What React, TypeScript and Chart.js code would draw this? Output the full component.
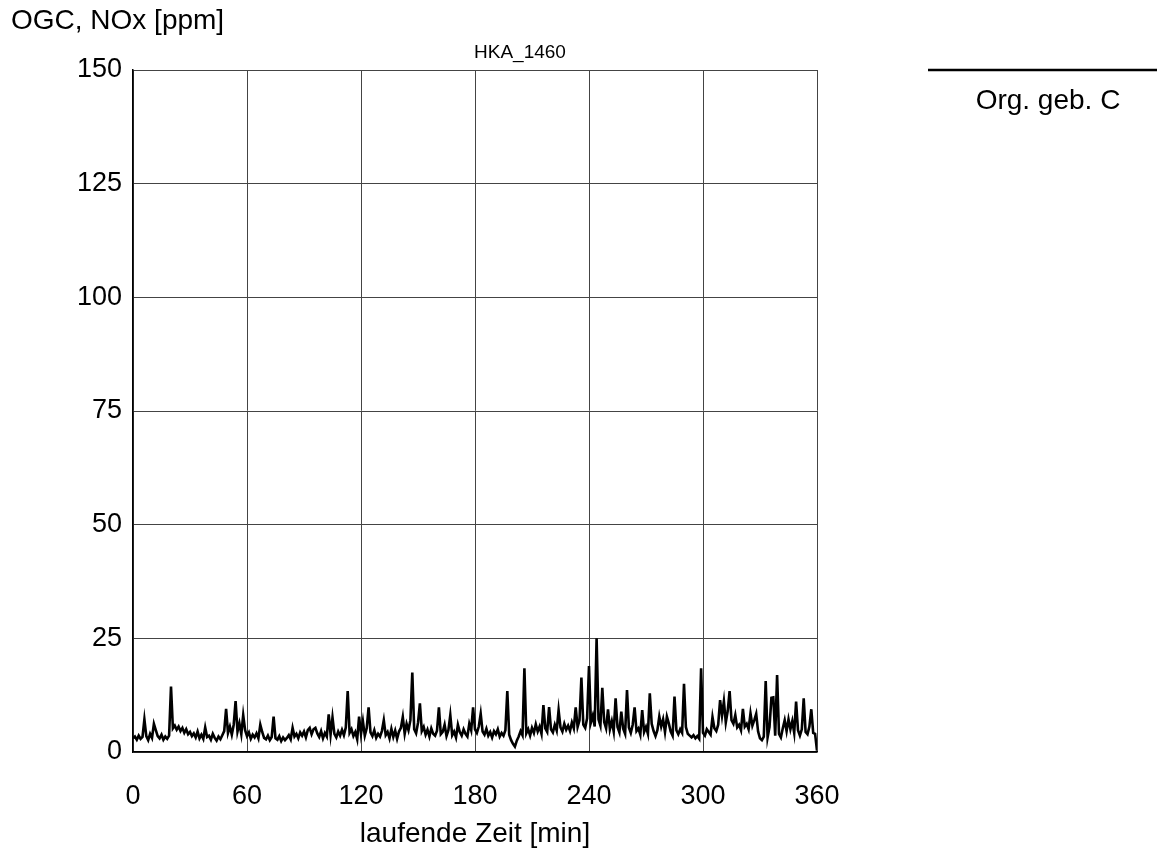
import React, { useEffect, useRef } from "react";
import { Chart, registerables } from "chart.js";

Chart.register(...registerables);

const chartTitle = "HKA_1460";
const yAxisTitle = "OGC, NOx [ppm]";
const xAxisTitle = "laufende Zeit [min]";
const seriesLabel = "Org. geb. C";

const xTicks = [0, 60, 120, 180, 240, 300, 360];
const yTicks = [0, 25, 50, 75, 100, 125, 150];

// Org. geb. C [ppm], one value per minute from 0 to 360
const ogcValues = [
  3.0, 3.4, 2.7, 3.6, 2.9, 3.3, 7.2, 3.5, 2.6, 4.0,
  3.1, 6.2, 4.8, 3.5, 3.0, 3.8, 2.7, 3.4, 2.9, 3.6,
  14.4, 5.2, 5.8, 4.9, 5.6, 4.6, 5.3, 4.2, 5.0, 3.9,
  4.4, 3.5, 4.1, 3.2, 4.5, 3.0, 3.8, 2.9, 5.4, 3.3,
  3.6, 2.7, 4.0, 3.1, 2.5, 3.4, 2.8, 3.7, 4.6, 9.5,
  4.2, 5.6, 3.8, 6.0, 11.2, 4.5, 6.3, 3.9, 8.1, 4.8,
  3.5, 4.3, 2.9, 3.8, 3.2, 4.1, 3.0, 6.0, 4.4, 3.1,
  2.8, 3.6, 2.6, 3.3, 7.8, 3.0, 2.7, 3.5, 2.4, 3.2,
  2.6, 3.1, 3.7, 2.8, 5.3, 3.4, 4.0, 3.0, 4.3, 3.6,
  4.5, 3.2, 4.8, 5.3, 3.9, 5.0, 5.3, 4.1, 3.3, 4.6,
  3.0, 4.2, 3.4, 8.3, 3.8, 7.6, 4.0, 3.2, 4.5, 3.6,
  4.9, 3.7, 5.4, 13.4, 4.2, 5.0, 3.5, 4.4, 2.8, 7.8,
  4.0, 6.8, 3.6, 5.2, 9.8, 4.3, 3.5, 4.8, 3.1, 4.0,
  3.4, 4.6, 7.0, 3.7, 4.4, 3.0, 5.1, 3.3, 4.7, 2.9,
  4.5, 5.3, 7.7, 4.0, 6.2, 4.8, 7.0, 17.5, 5.0, 4.1,
  6.4, 10.7, 4.6, 5.5, 3.8, 4.9, 3.4, 5.2, 4.0, 3.6,
  4.7, 9.8, 3.9, 4.4, 6.0, 3.5, 4.8, 8.1, 3.7, 4.5,
  3.2, 6.0, 4.4, 3.6, 5.0, 4.0, 3.4, 6.2, 4.8, 9.8,
  5.0, 4.2, 5.6, 8.4, 4.5, 3.8, 5.1, 3.6, 4.4, 3.2,
  4.6, 3.9, 5.0, 3.4, 4.2, 3.6, 4.8, 13.4, 3.8, 2.6,
  1.8, 1.2, 2.5, 3.4, 4.6, 3.7, 18.4, 4.1, 5.0, 3.6,
  5.3, 4.2, 6.1, 4.5, 5.6, 4.0, 10.3, 5.2, 4.4, 9.9,
  5.0, 4.3, 6.0, 4.7, 9.2, 5.4, 4.5, 6.2, 4.9, 5.8,
  4.6, 6.5, 5.2, 9.8, 5.5, 7.0, 16.4, 6.0, 5.3, 7.4,
  18.9, 6.5, 8.0, 5.6, 25.0, 7.2, 5.8, 14.1, 6.6, 5.2,
  9.4, 5.0, 6.8, 4.5, 11.8, 5.5, 4.3, 8.9, 5.1, 4.0,
  13.6, 5.4, 4.2, 6.0, 9.8, 4.6, 5.2, 3.8, 9.2, 4.4,
  5.5, 4.0, 12.9, 6.2, 4.6, 3.5, 4.8, 7.8, 5.6, 7.2,
  4.4, 7.8, 6.3, 4.5, 3.6, 12.2, 4.8, 3.9, 5.0, 4.2,
  15.0, 5.5, 4.0, 3.6, 3.2, 3.7, 3.0, 3.5, 2.9, 18.4,
  4.2, 3.6, 5.0, 4.4, 3.8, 7.7, 5.2, 4.6, 6.0, 11.4,
  8.0, 11.2, 6.5, 9.0, 13.4, 7.0, 6.2, 8.1, 5.4, 6.0,
  4.8, 9.5, 5.6, 6.2, 5.0, 8.5, 5.8, 7.0, 8.4, 4.5,
  3.0, 2.6, 3.4, 15.6, 3.2, 5.5, 11.9, 12.0, 3.6, 16.9,
  4.0, 3.2, 5.2, 7.0, 4.6, 7.2, 5.0, 6.8, 4.2, 11.1,
  4.8, 3.6, 5.0, 11.8, 4.4, 3.9, 5.6, 9.4, 4.2, 4.0,
  0.3,
];

const FONT = "'Liberation Sans', Arial, sans-serif";

const overlayPlugin = {
  id: "overlayText",
  afterDraw(chart: any) {
    const ctx = chart.ctx;
    const area = chart.chartArea;
    ctx.save();
    ctx.fillStyle = "#000";
    // y axis title (horizontal, top-left)
    ctx.font = `28px ${FONT}`;
    ctx.textAlign = "left";
    ctx.textBaseline = "middle";
    ctx.fillText(yAxisTitle, 11, 21);
    // x axis title
    ctx.textAlign = "center";
    ctx.fillText(xAxisTitle, (area.left + area.right) / 2, 834);
    // chart title
    ctx.font = `19px ${FONT}`;
    ctx.textAlign = "left";
    ctx.fillText(chartTitle, 474, 53);
    // legend
    ctx.strokeStyle = "#000";
    ctx.lineWidth = 2.5;
    ctx.beginPath();
    ctx.moveTo(928, 70);
    ctx.lineTo(1157, 70);
    ctx.stroke();
    ctx.font = `28px ${FONT}`;
    ctx.textAlign = "center";
    ctx.fillText(seriesLabel, 1048, 101);
    ctx.restore();
  },
};

export default function App() {
  const canvasRef = useRef<HTMLCanvasElement | null>(null);

  useEffect(() => {
    document.body.style.margin = "0";
    const canvas = canvasRef.current;
    if (!canvas) return;
    const points = ogcValues.map((v, i) => ({ x: i, y: v }));
    const chart = new Chart(canvas, {
      type: "line",
      data: {
        datasets: [
          {
            label: seriesLabel,
            data: points,
            borderColor: "#000",
            borderWidth: 2.6,
            pointRadius: 0,
            tension: 0,
            fill: false,
          },
        ],
      },
      options: {
        animation: false,
        responsive: false,
        maintainAspectRatio: false,
        layout: { padding: { left: 0, right: 351, top: 70, bottom: 0 } },
        plugins: {
          legend: { display: false },
          title: { display: false },
          tooltip: { enabled: false },
        },
        scales: {
          x: {
            type: "linear",
            min: 0,
            max: 360,
            afterBuildTicks: (scale: any) => {
              scale.ticks = xTicks.map((v) => ({ value: v }));
            },
            afterFit: (scale: any) => {
              scale.height = 98;
            },
            grid: { color: "#444", lineWidth: 1, drawTicks: false },
            border: { color: "#000", width: 1.5 },
            ticks: {
              color: "#000",
              font: { family: FONT, size: 27 },
              padding: 28,
              maxRotation: 0,
              autoSkip: false,
            },
          },
          y: {
            type: "linear",
            min: 0,
            max: 150,
            afterBuildTicks: (scale: any) => {
              scale.ticks = yTicks.map((v) => ({ value: v }));
            },
            afterFit: (scale: any) => {
              scale.width = 133;
            },
            grid: { color: "#444", lineWidth: 1, drawTicks: false },
            border: { color: "#000", width: 1.5 },
            ticks: {
              color: "#000",
              font: { family: FONT, size: 27 },
              padding: 11,
              autoSkip: false,
            },
          },
        },
      },
      plugins: [overlayPlugin],
    } as any);
    return () => chart.destroy();
  }, []);

  return (
    <div style={{ width: 1168, height: 850 }}>
      <canvas ref={canvasRef} width={1168} height={850} style={{ display: "block" }} />
    </div>
  );
}
